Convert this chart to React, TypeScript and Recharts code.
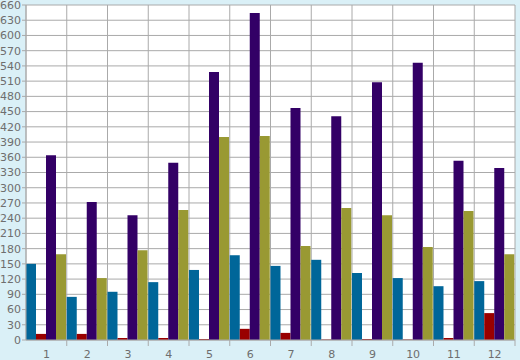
import React from 'react';
import { BarChart, Bar, XAxis, YAxis, CartesianGrid } from 'recharts';

const categories = ['1', '2', '3', '4', '5', '6', '7', '8', '9', '10', '11', '12'];
const seriesBlue = [150, 85, 95, 114, 138, 167, 146, 158, 132, 122, 106, 116];
const seriesRed = [12, 12, 4, 4, 2, 22, 14, 1, 2, 1, 4, 53];
const seriesPurple = [364, 272, 246, 349, 528, 644, 457, 441, 508, 546, 353, 339];
const seriesOlive = [169, 122, 177, 256, 400, 402, 185, 260, 246, 183, 254, 169];
const yTicks = [0, 30, 60, 90, 120, 150, 180, 210, 240, 270, 300, 330, 360, 390, 420, 450, 480, 510, 540, 570, 600, 630, 660];

const data = categories.map((c, i) => ({
  name: c,
  blue: seriesBlue[i],
  red: seriesRed[i],
  purple: seriesPurple[i],
  olive: seriesOlive[i],
}));

const W = 520;
const H = 360;
const MARGIN = { top: 5, right: 5, bottom: 0, left: 0 };
const Y_W = 26;
const X_H = 20;
const PLOT_W = W - MARGIN.left - MARGIN.right - Y_W;
const HALF_BAND = PLOT_W / categories.length / 2;
const AXIS_Y = H - MARGIN.bottom - X_H;
const GRID = '#aaaaaa';
const TEXT = '#6e6e6e';
const FONT = 'DejaVu Sans';

function XTick(props: any) {
  const { x, y, payload } = props;
  return (
    <g>
      <line x1={x + HALF_BAND} x2={x + HALF_BAND} y1={AXIS_Y} y2={AXIS_Y + 6} stroke={GRID} />
      <text x={x} y={y} dy="0.71em" textAnchor="middle" fill={TEXT} fontSize={11} fontFamily={FONT}>
        {payload.value}
      </text>
    </g>
  );
}

export default function App() {
  return (
    <div style={{ position: 'absolute', left: 0, top: 0, width: W, height: H, background: '#DAF0F7' }}>
      <BarChart width={W} height={H} data={data} margin={MARGIN} barCategoryGap={0} barGap={0}>
        <CartesianGrid
          stroke={GRID}
          fill="#ffffff"
          verticalCoordinatesGenerator={({ offset }: any) =>
            [...categories.map((_, i) => offset.left + (i + 1) * offset.width / categories.length), offset.left]
          }
        />
        <XAxis
          dataKey="name"
          height={X_H}
          interval={0}
          tickSize={6}
          tickMargin={4}
          tickLine={false}
          axisLine={{ stroke: GRID }}
          tick={<XTick />}
        />
        <YAxis
          width={Y_W}
          domain={[0, 660]}
          ticks={yTicks}
          interval={0}
          tickSize={4}
          tickMargin={1}
          axisLine={{ stroke: GRID }}
          tickLine={{ stroke: GRID }}
          tick={{ fill: TEXT, fontSize: 11, fontFamily: FONT }}
        />
        <Bar dataKey="blue" fill="#006699" isAnimationActive={false} />
        <Bar dataKey="red" fill="#990000" isAnimationActive={false} />
        <Bar dataKey="purple" fill="#330066" isAnimationActive={false} />
        <Bar dataKey="olive" fill="#999933" isAnimationActive={false} />
      </BarChart>
    </div>
  );
}
